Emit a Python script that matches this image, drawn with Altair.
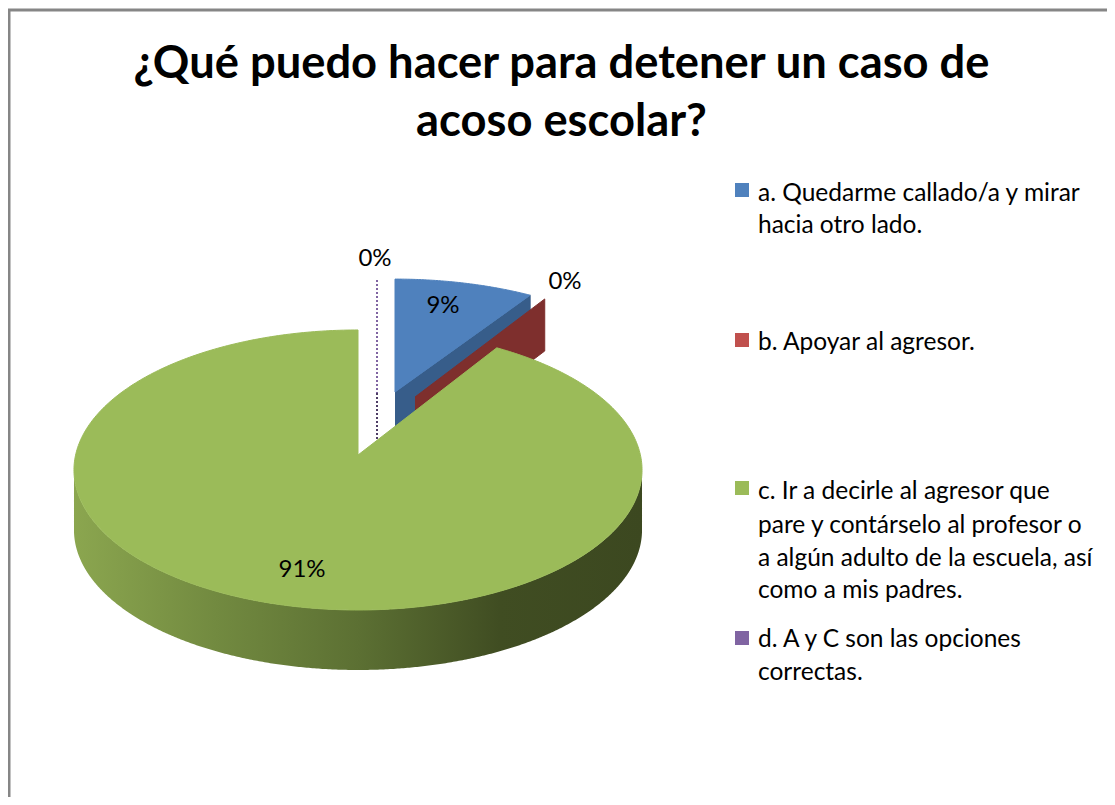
import math
import altair as alt
import pandas as pd

# Data
categories = ["a", "b", "c", "d"]
shares = [9, 0, 91, 0]
legend_lines = [
    ["a. Quedarme callado/a y mirar", "hacia otro lado."],
    ["b. Apoyar al agresor."],
    ["c. Ir a decirle al agresor que", "pare y contárselo al profesor o",
     "a algún adulto de la escuela, así", "como a mis padres."],
    ["d. A y C son las opciones", "correctas."],
]
title_lines = ["¿Qué puedo hacer para detener un caso de", "acoso escolar?"]

# Layout and style (screen pixels)
FONT = "Lato"
BLUE, RED, GREEN, PURPLE = "#4f81bd", "#c0504d", "#9bbb59", "#8064a2"
W, H = 1099, 789
K = 0.107
DEPTH = 52
GREEN_DEPTH = 60
legend_y = [[194, 226], [343], [492, 526, 559, 591], [640, 673]]
legend_sym_y = [190, 340, 488, 638]
label_pos = [(375, 259), (565, 282), (302, 570), (443, 306)]
label_order = [3, 1, 2, 0]

sx = alt.Scale(domain=[8, 8 + W], range=[0, W])
sy = alt.Scale(domain=[8 + H, 8], range=[H, 0])
X = alt.X("x:Q", scale=sx, axis=None)
Y = alt.Y("y:Q", scale=sy, axis=None)


def pt(cx, cy, a, b, t):
    w = 1 + K * math.cos(t)
    return cx + a * math.sin(t) / w, cy - b * math.cos(t) / w


def angle(pct):
    return 2 * math.pi * pct / 100


def sector(cx, cy, a, b, p0, p1, n=90):
    pts = [(cx, cy)]
    for i in range(n + 1):
        pts.append(pt(cx, cy, a, b, angle(p0 + (p1 - p0) * i / n)))
    pts.append((cx, cy))
    return pts


def poly(pts, color, stroke=None):
    df = pd.DataFrame({"x": [p[0] for p in pts], "y": [p[1] for p in pts], "o": range(len(pts))})
    return alt.Chart(df).mark_line(fill=color, stroke=stroke or color, strokeWidth=1,
                                   interpolate="linear").encode(x=X, y=Y, order="o:Q")


def dotted(pts, color):
    df = pd.DataFrame({"x": [p[0] for p in pts], "y": [p[1] for p in pts], "o": range(len(pts))})
    return alt.Chart(df).mark_line(color=color, strokeWidth=2, strokeDash=[2, 2]).encode(
        x=X, y=Y, order="o:Q")


cum_a = shares[0]
# slice d (0 %): only a dotted edge
d_top = (377, 393)
d_tip = pt(377, 393, 275, 125, 0)
layers = [
    dotted([d_tip, d_top], PURPLE),
    dotted([d_top, (377, 393 + DEPTH)], "#4e3d65"),
]
# slice a: wall and top
a_apex = (395, 392)
a_tip = pt(*a_apex, 275, 125, angle(cum_a))
layers.append(poly([a_apex, a_tip, (a_tip[0], a_tip[1] + DEPTH), (a_apex[0], a_apex[1] + DEPTH)], "#375d8a"))
layers.append(poly(sector(*a_apex, 275, 125, 0, cum_a), BLUE))
# slice b (0 %): only its cut wall shows
b_apex = (415, 397)
b_tip = pt(*b_apex, 264, 126.6, angle(cum_a + shares[1]))
layers.append(poly([b_apex, b_tip, (b_tip[0], b_tip[1] + DEPTH), (b_apex[0], b_apex[1] + DEPTH)], "#7e2f2d"))

# slice c: outer wall with its light-to-dark gradient, then the top
c_apex = (358, 455)
c_a, c_b = 282.4, 138.4
rim = [pt(*c_apex, c_a, c_b, angle(p / 10)) for p in range(0, 1001)]
rim = sorted([p for p in rim if p[1] >= 470], key=lambda p: p[0])
wall = pd.DataFrame({"x": [p[0] for p in rim], "y": [p[1] for p in rim],
                     "y2": [p[1] + GREEN_DEPTH for p in rim]})
grad = alt.Gradient(gradient="linear", x1=0, x2=1, y1=0, y2=0, stops=[
    alt.GradientStop(offset=0, color="#8ba64f"),
    alt.GradientStop(offset=0.25, color="#728a40"),
    alt.GradientStop(offset=0.5, color="#5c7033"),
    alt.GradientStop(offset=0.75, color="#404d22"),
    alt.GradientStop(offset=1, color="#3c4820"),
])
layers.append(alt.Chart(wall).mark_area(fill=grad).encode(x=X, y=Y, y2="y2:Q"))
layers.append(poly(sector(*c_apex, c_a, c_b, cum_a + shares[1], cum_a + shares[1] + shares[2], n=400), GREEN))

# Percent labels
pct = pd.DataFrame({"t": [f"{shares[i]}%" for i in label_order],
                    "x": [p[0] for p in label_pos], "y": [p[1] for p in label_pos]})
layers.append(alt.Chart(pct).mark_text(font=FONT, fontSize=24, color="#000000").encode(x=X, y=Y, text="t:N"))

# Legend
rows = [(t, yy) for ls, ys in zip(legend_lines, legend_y) for t, yy in zip(ls, ys)]
leg = pd.DataFrame({"t": [r[0] for r in rows], "y": [r[1] for r in rows], "x": [758] * len(rows)})
layers.append(alt.Chart(leg).mark_text(font=FONT, fontSize=24.5, align="left", color="#000000").encode(x=X, y=Y, text="t:N"))
sym = pd.DataFrame({"c": categories, "y": legend_sym_y, "x": [742] * 4})
layers.append(alt.Chart(sym).mark_square(size=196, opacity=1).encode(
    x=X, y=Y,
    color=alt.Color("c:N", scale=alt.Scale(domain=categories, range=[BLUE, RED, GREEN, PURPLE]), legend=None)))

# Outer frame (top and left only show in the picture)
layers.append(alt.Chart(pd.DataFrame({"x": [9, 9, 8 + W], "y": [8 + H, 10, 10], "o": [0, 1, 2]})).mark_line(
    color="#868686", strokeWidth=3).encode(x=X, y=Y, order="o:Q"))

chart = alt.layer(*layers).properties(
    width=W, height=H, padding=0, autosize=alt.AutoSizeParams(type="none"),
    background="#ffffff",
    title=alt.TitleParams(text=title_lines, font=FONT, fontSize=45.3, fontWeight="bold",
                          color="#000000", anchor="middle", lineHeight=58, offset=-141, dx=4),
).configure_view(stroke=None)

chart.save("out.html", embed_options={"renderer": "svg", "actions": False})
